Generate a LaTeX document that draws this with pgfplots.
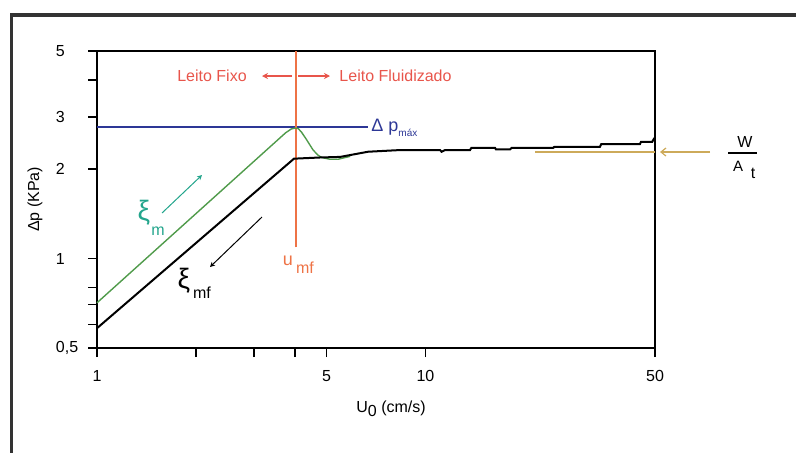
\documentclass[border=0pt]{standalone}
\usepackage{pgfplots}
\pgfplotsset{compat=1.18}
\usepackage{fontspec}
\setmainfont{Liberation Sans}
\usetikzlibrary{arrows.meta}
\definecolor{cgreen}{RGB}{80,155,75}
\definecolor{cteal}{RGB}{35,165,140}
\definecolor{cblue}{RGB}{45,55,150}
\definecolor{corange}{RGB}{238,115,70}
\definecolor{cred}{RGB}{232,85,75}
\definecolor{cgold}{RGB}{205,170,90}
\newcommand{\fs}{\fontsize{8}{9.5}\selectfont}
\begin{document}
\begin{tikzpicture}
\useasboundingbox (-48.5pt,-52pt) rectangle (349.5pt,174pt);
\draw[line width=1.8pt, black!80] (-42.75pt,-60pt) -- (-42.75pt,166.5pt) -- (360pt,166.5pt);
\begin{axis}[
  at={(0,0)}, anchor=south west,
  scale only axis, width=279pt, height=148.5pt,
  xmode=log, ymode=log,
  xmin=1, xmax=50, ymin=0.5, ymax=5,
  xtick={1,5,10,50}, xticklabels={1,5,10,50},
  minor xtick={2,3,4},
  ytick={0.5,1,2,3,5}, yticklabels={{0,5},1,2,3,5},
  minor ytick={0.6,0.7,0.8,4},
  tick pos=left,
  tick align=outside,
  major tick length=4.5pt, minor tick length=4.5pt,
  every tick/.style={black, line width=0.8pt},
  axis line style={line width=0.9pt},
  /pgf/number format/assume math mode=true,
  tick label style={font=\fs},
  yticklabel style={text width=12.5pt, align=left, anchor=east},
  xticklabel style={yshift=-3pt},
  label style={font=\fs},
  xlabel={U\raisebox{-0.45ex}{0} (cm/s)},
  ylabel={Δp (KPa)},
  xlabel style={at={(axis description cs:0.527,-0.205)}, anchor=center},
  ylabel style={at={(axis description cs:-0.111,0.5)}, anchor=center},
  clip=false,
]
% reference lines
\addplot[cblue, line width=0.8pt] coordinates {(1,2.77) (6.69,2.77)};
\addplot[corange, line width=0.75pt] coordinates {(4.03,1.09) (4.03,5)};
\addplot[cgold, line width=0.7pt] coordinates {(21.6,2.285) (50,2.285)};
% green (increasing velocity)
\addplot[cgreen, line width=0.7pt] coordinates {
(1,0.71) (3.75,2.65) (3.9,2.73) (4.0,2.75) (4.1,2.74) (4.2,2.66) (4.35,2.51)
(4.55,2.32) (4.71,2.23) (4.83,2.19) (5.12,2.16) (5.42,2.16) (5.61,2.18) (5.9,2.21)};
% black (decreasing velocity)
\addplot[black, line width=1pt] coordinates {
(1,0.583) (3.98,2.17) (4.78,2.19) (5.5,2.20) (6.69,2.29) (8.37,2.32) (11.08,2.32)
(11.2,2.29) (11.48,2.32) (13.67,2.32) (13.8,2.36) (16.29,2.36) (16.4,2.33) (18.1,2.33)
(18.3,2.36) (24.5,2.36) (24.7,2.38) (34.0,2.38) (34.3,2.43) (45.0,2.43) (45.3,2.47)
(49.0,2.47) (49.5,2.52) (50,2.56)};
\end{axis}
% annotations (picture coordinates: axis lower-left corner at origin)
\node[cred, font=\fs, inner sep=0pt] at (57.5pt,136pt) {Leito Fixo};
\draw[cred, line width=0.6pt, -{Stealth[length=3pt,width=3pt]}] (97.5pt,136pt) -- (82.5pt,136pt);
\draw[cred, line width=0.6pt, -{Stealth[length=3pt,width=3pt]}] (100.5pt,136pt) -- (116.5pt,136pt);
\node[cred, font=\fs, inner sep=0pt] at (149.25pt,136pt) {Leito Fluidizado};
\node[cblue, anchor=west, inner sep=0pt, font=\fontsize{9}{10}\selectfont] at (137pt,110pt) {Δ p\raisebox{-0.5ex}{\fontsize{5}{6}\selectfont máx}};
\node[corange, inner sep=0pt, font=\fontsize{9}{10}\selectfont] at (95.5pt,43.5pt) {u};
\node[corange, inner sep=0pt, font=\fs] at (104pt,40pt) {mf};
\node[cteal, inner sep=0pt, font=\fontsize{14}{15}\selectfont] at (23.5pt,67.5pt) {ξ};
\node[cteal, inner sep=0pt, font=\fs] at (30.5pt,58.5pt) {m};
\draw[cteal, line width=0.5pt, -{Stealth[length=2.5pt,width=2.5pt]}] (32.5pt,67.5pt) -- (52.5pt,86.5pt);
\node[black, inner sep=0pt, font=\fontsize{14}{15}\selectfont] at (43.5pt,33.5pt) {ξ};
\node[black, inner sep=0pt, font=\fs] at (52.5pt,27.75pt) {mf};
\draw[black, line width=0.5pt, -{Stealth[length=2.5pt,width=2.5pt]}] (82.5pt,65.5pt) -- (56.5pt,40.5pt);
\draw[cgold, line width=0.6pt, -{Straight Barb[length=2.5pt,width=4pt]}] (306.5pt,98pt) -- (281.5pt,98pt);
\node[black, inner sep=0pt, font=\fs] at (324pt,103pt) {W};
\draw[black, line width=0.7pt] (315.5pt,97.5pt) -- (330pt,97.5pt);
\node[black, inner sep=0pt, font=\fontsize{7.5}{8}\selectfont] at (320.5pt,91pt) {A};
\node[black, inner sep=0pt, font=\fs] at (328pt,87.5pt) {t};
\end{tikzpicture}
\end{document}
